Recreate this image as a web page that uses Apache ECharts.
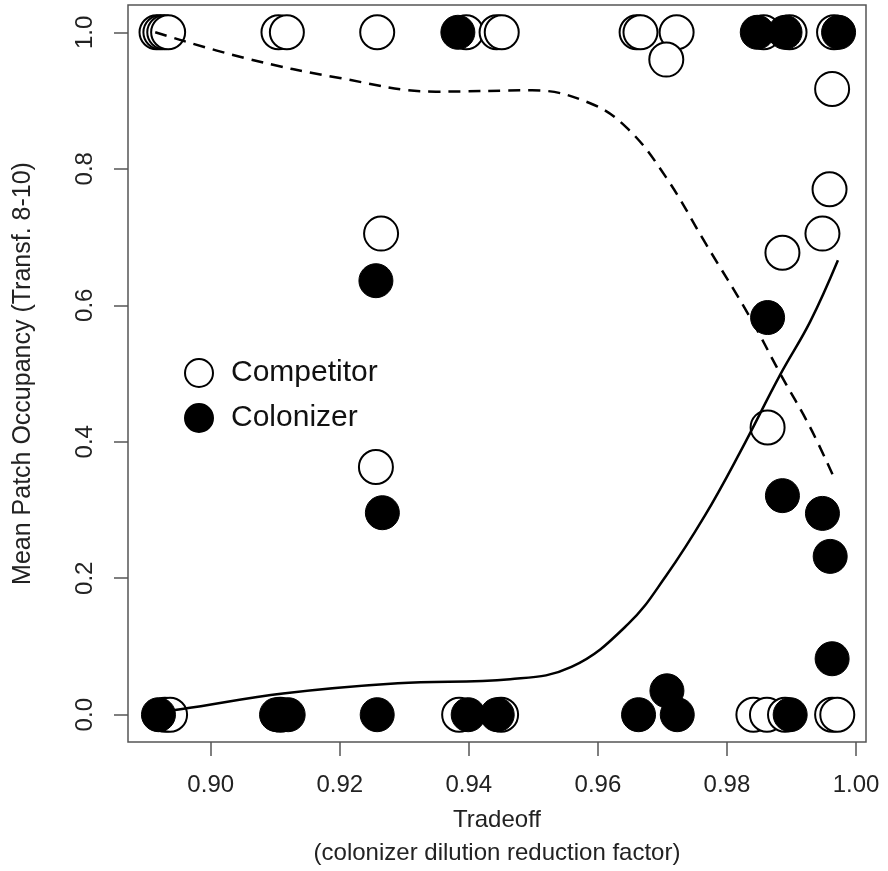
<!DOCTYPE html>
<html>
<head>
<meta charset="utf-8">
<script src="https://cdn.jsdelivr.net/npm/echarts@6/dist/echarts.min.js"></script>
<style>
  html, body { margin: 0; padding: 0; background: #fff; }
  #chart { width: 888px; height: 871px; }
</style>
</head>
<body>
<div id="chart"></div>
<script>
// competitor (open circles)
const competitorX = [0.8916, 0.8922, 0.8928, 0.8934, 0.9105, 0.9118, 0.9258, 0.9396, 0.9443, 0.9451,
  0.9660, 0.9666, 0.9722, 0.9706, 0.9857, 0.9897, 0.9966,
  0.9963, 0.9959, 0.9948, 0.9886, 0.9863, 0.9264, 0.9256,
  0.8929, 0.8937, 0.9108, 0.9385, 0.9450, 0.9841, 0.9862, 0.9890, 0.9963, 0.9971]
const competitorY = [1, 1, 1, 1, 1, 1, 1, 1, 1, 1,
  1, 1, 1, 0.960, 1, 1, 1,
  0.917, 0.770, 0.705, 0.677, 0.421, 0.705, 0.363,
  0, 0, 0, 0, 0, 0, 0, 0, 0, 0]

// colonizer (filled circles)
const colonizerX = [0.9383, 0.9847, 0.9890, 0.9973,
  0.9863, 0.9886, 0.9948, 0.9960, 0.9963, 0.9256, 0.9266,
  0.8919, 0.9102, 0.9120, 0.9258, 0.9399, 0.9444, 0.9663, 0.9707, 0.9723, 0.9898]
const colonizerY = [1, 1, 1, 1,
  0.582, 0.321, 0.295, 0.232, 0.082, 0.636, 0.296,
  0, 0, 0, 0, 0, 0, 0, 0.035, 0, 0]

// fitted curves
const compFitX = [0.8914, 0.9054, 0.9200, 0.9349, 0.9498, 0.9588, 0.9647, 0.9706, 0.9766, 0.9836, 0.9883, 0.9929, 0.9968]
const compFitY = [1.000, 0.962, 0.933, 0.913, 0.915, 0.896, 0.858, 0.787, 0.692, 0.582, 0.499, 0.421, 0.343]
const colFitX = [0.8914, 0.8953, 0.9112, 0.9290, 0.9464, 0.9559, 0.9647, 0.9706, 0.9766, 0.9820, 0.9883, 0.9929, 0.9972]
const colFitY = [0.005, 0.008, 0.031, 0.046, 0.052, 0.070, 0.133, 0.204, 0.292, 0.384, 0.499, 0.576, 0.666]

const xTicks = [0.90, 0.92, 0.94, 0.96, 0.98, 1.00]
const yTicks = [0, 0.2, 0.4, 0.6, 0.8, 1.0]

const zip = (xs, ys) => xs.map((x, i) => [x, ys[i]])
const font = '"Liberation Sans", Arial, sans-serif'

const chart = echarts.init(document.getElementById('chart'))
chart.setOption({
  animation: false,
  backgroundColor: '#fff',
  textStyle: { fontFamily: font },
  grid: {
    left: 128, right: 22, top: 5, bottom: 129,
    outerBoundsMode: 'none',
    show: true,
    borderColor: '#555',
    borderWidth: 1.5
  },
  legend: {
    orient: 'vertical',
    left: 179, top: 353,
    itemWidth: 28, itemHeight: 28, itemGap: 15,
    data: ['Competitor', 'Colonizer'],
    textStyle: { fontSize: 30, color: '#111', fontFamily: font, padding: [0, 0, 0, 13] }
  },
  xAxis: {
    type: 'value',
    min: 0.88718, max: 1.00155,
    name: 'Tradeoff\n(colonizer dilution reduction factor)',
    nameLocation: 'middle',
    nameGap: 62,
    nameTextStyle: { fontSize: 24, color: '#222', lineHeight: 33, fontFamily: font },
    axisLine: { show: false, onZero: false },
    splitLine: { show: false },
    axisTick: { length: 14, customValues: xTicks, lineStyle: { color: '#555', width: 1.5 } },
    axisLabel: {
      customValues: xTicks, margin: 31, fontSize: 24, color: '#222',
      formatter: v => v.toFixed(2)
    }
  },
  yAxis: {
    type: 'value',
    min: -0.04, max: 1.04,
    name: 'Mean Patch Occupancy (Transf. 8-10)',
    nameLocation: 'middle',
    nameGap: 92,
    nameTextStyle: { fontSize: 25, color: '#222', fontFamily: font },
    axisLine: { show: false, onZero: false },
    splitLine: { show: false },
    axisTick: { length: 14, customValues: yTicks, lineStyle: { color: '#555', width: 1.5 } },
    axisLabel: {
      customValues: yTicks, margin: 31, fontSize: 24, color: '#222', rotate: 90,
      formatter: v => v.toFixed(1)
    }
  },
  series: [
    {
      name: 'Competitor',
      type: 'scatter',
      symbol: 'circle',
      symbolSize: 34,
      itemStyle: { color: '#fff', borderColor: '#000', borderWidth: 2, opacity: 1 },
      data: zip(competitorX, competitorY)
    },
    {
      name: 'competitorFit',
      type: 'line',
      smooth: 0.4,
      showSymbol: false,
      lineStyle: { color: '#000', width: 2.5, type: [12, 8] },
      data: zip(compFitX, compFitY)
    },
    {
      name: 'colonizerFit',
      type: 'line',
      smooth: 0.4,
      showSymbol: false,
      lineStyle: { color: '#000', width: 2.5 },
      data: zip(colFitX, colFitY)
    },
    {
      name: 'Colonizer',
      type: 'scatter',
      symbol: 'circle',
      symbolSize: 34,
      itemStyle: { color: '#000', borderColor: '#000', borderWidth: 1, opacity: 1 },
      data: zip(colonizerX, colonizerY)
    }
  ]
})
</script>
</body>
</html>
